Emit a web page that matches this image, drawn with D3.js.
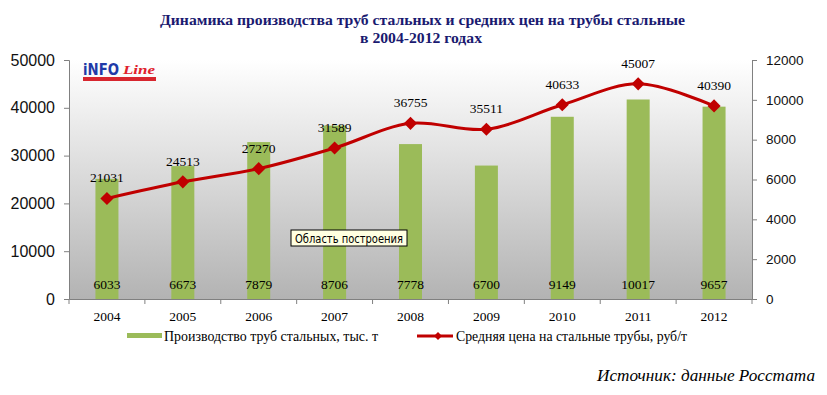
<!DOCTYPE html>
<html>
<head>
<meta charset="utf-8">
<script src="https://cdn.jsdelivr.net/npm/d3@7"></script>
<style>
  body { margin: 0; background: #fff; }
  svg { display: block; }
  .serif { font-family: "Liberation Serif", "Times New Roman", serif; }
  .sans { font-family: "Liberation Sans", Arial, sans-serif; }
</style>
</head>
<body>
<svg id="chart" width="827" height="395"></svg>
<script>
const years = ['2004', '2005', '2006', '2007', '2008', '2009', '2010', '2011', '2012'];
const production = [6033, 6673, 7879, 8706, 7778, 6700, 9149, 10017, 9657];
const price = [21031, 24513, 27270, 31589, 36755, 35511, 40633, 45007, 40390];
const leftTicks = [0, 10000, 20000, 30000, 40000, 50000];
const rightTicks = [0, 2000, 4000, 6000, 8000, 10000, 12000];

const margin = {top: 60, left: 69, right: 75, bottom: 96};
const W = 827, H = 395;
const innerW = W - margin.left - margin.right;
const innerH = H - margin.top - margin.bottom;

const svg = d3.select('#chart');

// gradient for plot area
const defs = svg.append('defs');
const grad = defs.append('linearGradient')
  .attr('id', 'plotGrad')
  .attr('x1', 0).attr('y1', 0).attr('x2', 0).attr('y2', 1);
grad.append('stop').attr('offset', '0%').attr('stop-color', '#ffffff');
grad.append('stop').attr('offset', '100%').attr('stop-color', '#b3b3b3');

// title
svg.append('text')
  .attr('class', 'serif')
  .attr('x', 160).attr('y', 25)
  .attr('textLength', 525)
  .attr('lengthAdjust', 'spacingAndGlyphs')
  .style('font-size', '15.5px').style('font-weight', 'bold')
  .style('fill', '#1a1a70')
  .text('Динамика производства труб стальных и средних цен на трубы стальные');
svg.append('text')
  .attr('class', 'serif')
  .attr('x', 360).attr('y', 43)
  .attr('textLength', 122)
  .attr('lengthAdjust', 'spacingAndGlyphs')
  .style('font-size', '15.5px').style('font-weight', 'bold')
  .style('fill', '#1a1a70')
  .text('в 2004-2012 годах');

const g = svg.append('g')
  .attr('transform', 'translate(' + [margin.left, margin.top] + ')');

const x = d3.scaleBand()
  .domain(years)
  .range([0, innerW]);

const yLeft = d3.scaleLinear()
  .domain([0, 50000])
  .range([innerH, 0]);

const yRight = d3.scaleLinear()
  .domain([0, 12000])
  .range([innerH, 0]);

g.append('rect')
  .attr('width', innerW)
  .attr('height', innerH)
  .attr('fill', 'url(#plotGrad)');

// logo
const logo = svg.append('g').attr('transform', 'translate(83, 62)');
logo.append('text')
  .attr('x', 0).attr('y', 13)
  .attr('textLength', 36)
  .attr('lengthAdjust', 'spacingAndGlyphs')
  .style('font', 'bold 15px "DejaVu Sans", Arial, sans-serif')
  .style('fill', '#1f3aa8')
  .text('iNFO');
logo.append('text')
  .attr('x', 40).attr('y', 12)
  .attr('textLength', 32)
  .attr('lengthAdjust', 'spacingAndGlyphs')
  .style('font', 'italic bold 12px "Liberation Serif", serif')
  .style('fill', '#e0202a')
  .text('Line');
logo.append('rect')
  .attr('x', 0).attr('y', 15)
  .attr('width', 73).attr('height', 4)
  .attr('fill', '#d7262e');

// bars
const barW = 23;
g.selectAll('.bar')
  .data(production)
  .join('rect')
  .attr('class', 'bar')
  .attr('x', (d, i) => x(years[i]) + x.bandwidth() / 2 - barW / 2)
  .attr('y', d => yRight(d))
  .attr('width', barW)
  .attr('height', d => innerH - yRight(d))
  .attr('fill', '#9bbb59');

g.selectAll('.bar-label')
  .data(production)
  .join('text')
  .attr('class', 'bar-label serif')
  .attr('x', (d, i) => x(years[i]) + x.bandwidth() / 2)
  .attr('y', innerH - 10)
  .attr('text-anchor', 'middle')
  .style('font-size', '13.5px')
  .style('fill', '#000')
  .text(d => d);

// line
const line = d3.line()
  .x((d, i) => x(years[i]) + x.bandwidth() / 2)
  .y(d => yLeft(d))
  .curve(d3.curveCatmullRom.alpha(0.5));

g.append('path')
  .datum(price)
  .attr('d', line)
  .attr('fill', 'none')
  .attr('stroke', '#c00000')
  .attr('stroke-width', 3);

const diamond = d3.symbol().type(d3.symbolDiamond2).size(110);
g.selectAll('.marker')
  .data(price)
  .join('path')
  .attr('class', 'marker')
  .attr('d', diamond)
  .attr('transform', (d, i) => 'translate(' + [x(years[i]) + x.bandwidth() / 2, yLeft(d)] + ')')
  .attr('fill', '#c00000');

g.selectAll('.line-label')
  .data(price)
  .join('text')
  .attr('class', 'line-label serif')
  .attr('x', (d, i) => x(years[i]) + x.bandwidth() / 2)
  .attr('y', d => yLeft(d) - 16)
  .attr('text-anchor', 'middle')
  .style('font-size', '13.5px')
  .style('fill', '#000')
  .text(d => d);

// axes
const leftAxis = g.append('g')
  .call(d3.axisLeft(yLeft).tickValues(leftTicks).tickSize(5).tickPadding(9).tickFormat(d3.format('d')));
leftAxis.selectAll('text')
  .attr('class', 'sans')
  .style('font-size', '16px')
  .attr('fill', '#111');

const rightAxis = g.append('g')
  .attr('transform', 'translate(' + innerW + ',0)')
  .call(d3.axisRight(yRight).tickValues(rightTicks).tickSize(5).tickPadding(9).tickFormat(d3.format('d')));
rightAxis.selectAll('text')
  .attr('class', 'sans')
  .style('font-size', '13.5px')
  .attr('fill', '#111');

const bottomAxis = g.append('g')
  .attr('transform', 'translate(0,' + innerH + ')')
  .call(d3.axisBottom(x).tickSize(0).tickPadding(12));
bottomAxis.selectAll('text')
  .attr('class', 'serif')
  .style('font-size', '13.5px')
  .attr('fill', '#000');

// category separator ticks
bottomAxis.selectAll('.sep')
  .data(d3.range(years.length + 1))
  .join('line')
  .attr('class', 'sep')
  .attr('x1', i => i * x.step())
  .attr('x2', i => i * x.step())
  .attr('y1', 0).attr('y2', 5)
  .attr('stroke', '#808080');

[leftAxis, rightAxis, bottomAxis].forEach(a => {
  a.selectAll('.domain').attr('stroke', '#808080');
  a.selectAll('.tick line').attr('stroke', '#808080');
});

// tooltip box
const tip = svg.append('g').attr('transform', 'translate(291, 230)');
tip.append('rect')
  .attr('width', 116).attr('height', 16)
  .attr('fill', '#ffffe1')
  .attr('stroke', '#000');
tip.append('text')
  .attr('x', 4).attr('y', 12.5)
  .attr('textLength', 108)
  .attr('lengthAdjust', 'spacingAndGlyphs')
  .style('font', '11.5px "DejaVu Sans", Tahoma, sans-serif')
  .text('Область построения');

// legend
const legend = svg.append('g');
legend.append('rect')
  .attr('x', 127).attr('y', 333)
  .attr('width', 35).attr('height', 5)
  .attr('fill', '#9bbb59');
legend.append('text')
  .attr('class', 'serif')
  .attr('x', 164).attr('y', 341)
  .attr('textLength', 214)
  .attr('lengthAdjust', 'spacingAndGlyphs')
  .style('font-size', '14px')
  .text('Производство труб стальных, тыс. т');
legend.append('line')
  .attr('x1', 417).attr('x2', 453)
  .attr('y1', 336).attr('y2', 336)
  .attr('stroke', '#c00000').attr('stroke-width', 3);
legend.append('path')
  .attr('d', d3.symbol().type(d3.symbolDiamond2).size(40))
  .attr('transform', 'translate(438,336)')
  .attr('fill', '#c00000');
legend.append('text')
  .attr('class', 'serif')
  .attr('x', 456).attr('y', 341)
  .attr('textLength', 231)
  .attr('lengthAdjust', 'spacingAndGlyphs')
  .style('font-size', '14px')
  .text('Средняя цена на стальные трубы, руб/т');

// source
svg.append('text')
  .attr('class', 'serif')
  .attr('x', 597).attr('y', 381)
  .attr('textLength', 218)
  .attr('lengthAdjust', 'spacingAndGlyphs')
  .style('font-size', '17px').style('font-style', 'italic')
  .text('Источник: данные Росстата');
</script>
</body>
</html>
